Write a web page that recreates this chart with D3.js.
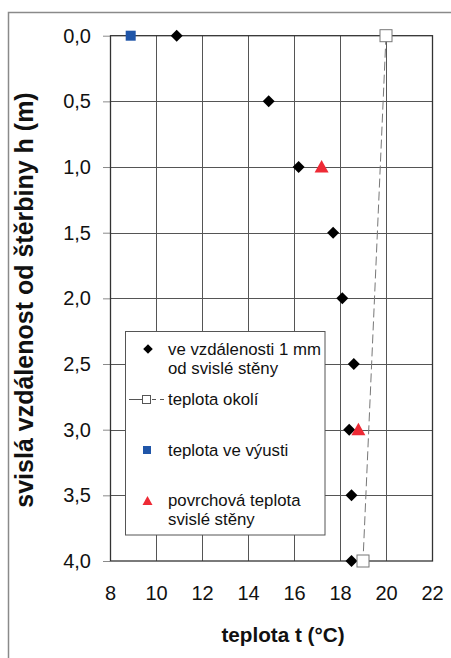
<!DOCTYPE html>
<html>
<head>
<meta charset="utf-8">
<script src="https://cdn.jsdelivr.net/npm/d3@7"></script>
<style>
  html, body { margin: 0; padding: 0; background: #fff; }
  svg { display: block; font-family: "Liberation Sans", Arial, sans-serif; }
</style>
</head>
<body>
<svg id="chart" width="451" height="658"></svg>
<script>
// Heights (m) below the slot
const heights = [0.0, 0.5, 1.0, 1.5, 2.0, 2.5, 3.0, 3.5, 4.0];
// Air temperature 1 mm from the vertical wall (°C)
const tempAt1mm = [10.9, 14.9, 16.2, 17.7, 18.1, 18.6, 18.4, 18.5, 18.5];
// Ambient temperature (°C) at top and bottom
const ambientH = [0.0, 4.0];
const ambientT = [20.0, 19.0];
// Outlet temperature (°C)
const outletH = [0.0];
const outletT = [8.9];
// Surface temperature of the vertical wall (°C)
const surfaceH = [1.0, 3.0];
const surfaceT = [17.2, 18.8];

const xTicks = [8, 10, 12, 14, 16, 18, 20, 22];
const yTicks = [0, 0.5, 1.0, 1.5, 2.0, 2.5, 3.0, 3.5, 4.0];

const svg = d3.select("#chart");
const plotL = 110, plotR = 432, plotT = 35.7, plotB = 561;
const FONT = "'Liberation Sans', Arial, sans-serif";

const x = d3.scaleLinear().domain([8, 22]).range([plotL, plotR]);
const y = d3.scaleLinear().domain([0, 4]).range([plotT, plotB]);
const fmt = d => d3.format(".1f")(d).replace(".", ",");

// outer frame
svg.append("rect").attr("x", 8.5).attr("y", 12.5).attr("width", 470).attr("height", 680)
  .attr("fill", "none").attr("stroke", "#8a8a8a").attr("stroke-width", 1.5);

// grid
const grid = svg.append("g");
grid.selectAll("line.v").data(xTicks.slice(1, -1)).join("line")
  .attr("x1", d => Math.round(x(d)) + 0.5).attr("x2", d => Math.round(x(d)) + 0.5)
  .attr("y1", plotT).attr("y2", plotB)
  .attr("stroke", "#555").attr("stroke-width", 1);
grid.selectAll("line.h").data(yTicks.slice(1, -1)).join("line")
  .attr("y1", d => Math.round(y(d)) + 0.5).attr("y2", d => Math.round(y(d)) + 0.5)
  .attr("x1", plotL).attr("x2", plotR)
  .attr("stroke", "#555").attr("stroke-width", 1);

// axes
const yAxis = d3.axisLeft(y).tickValues(yTicks).tickFormat(fmt).tickSize(7).tickPadding(12);
const gy = svg.append("g").attr("transform", `translate(${plotL},0)`).call(yAxis);
gy.select(".domain").remove();
gy.selectAll(".tick line").attr("stroke", "#8a8a8a");
gy.selectAll(".tick text").attr("font-size", 20).attr("fill", "#111")
  .attr("font-family", FONT);

const xAxis = d3.axisBottom(x).tickValues(xTicks).tickFormat(d3.format("d")).tickSize(0).tickPadding(25);
const gx = svg.append("g").attr("transform", `translate(0,${plotB})`).call(xAxis);
gx.select(".domain").remove();
gx.selectAll(".tick text").attr("font-size", 20).attr("fill", "#111")
  .attr("font-family", FONT);

// plot border
svg.append("rect").attr("x", plotL + 0.5).attr("y", plotT).attr("width", plotR - plotL).attr("height", plotB - plotT)
  .attr("fill", "none").attr("stroke", "#333").attr("stroke-width", 1.3);

// ambient line
svg.append("path")
  .datum(ambientH.map((h, i) => [ambientT[i], h]))
  .attr("d", d3.line().x(d => x(d[0])).y(d => y(d[1])))
  .attr("fill", "none").attr("stroke", "#777").attr("stroke-width", 1)
  .attr("stroke-dasharray", "9,4");

// 1 mm series (diamonds)
svg.append("g").selectAll("path").data(heights.map((h, i) => [tempAt1mm[i], h])).join("path")
  .attr("transform", d => `translate(${x(d[0])},${y(d[1])}) rotate(45)`)
  .attr("d", d3.symbol().type(d3.symbolSquare).size(72)())
  .attr("fill", "#000");

// ambient markers
svg.append("g").selectAll("rect").data(ambientH.map((h, i) => [ambientT[i], h])).join("rect")
  .attr("x", d => x(d[0]) - 6).attr("y", d => y(d[1]) - 6)
  .attr("width", 12).attr("height", 12)
  .attr("fill", "#fff").attr("stroke", "#777").attr("stroke-width", 1);

// outlet marker
svg.append("g").selectAll("rect").data(outletH.map((h, i) => [outletT[i], h])).join("rect")
  .attr("x", d => x(d[0]) - 5).attr("y", d => y(d[1]) - 5)
  .attr("width", 10).attr("height", 10)
  .attr("fill", "#1f55a8");

// surface markers
svg.append("g").selectAll("path").data(surfaceH.map((h, i) => [surfaceT[i], h])).join("path")
  .attr("transform", d => `translate(${x(d[0])},${y(d[1])})`)
  .attr("d", "M0,-7 L7,5.5 L-7,5.5 Z")
  .attr("fill", "#ee2a35");

// legend
const lg = svg.append("g");
lg.append("rect").attr("x", 125.5).attr("y", 331.5).attr("width", 199.5).attr("height", 203.5)
  .attr("fill", "#fff").attr("stroke", "#555").attr("stroke-width", 1);
const lt = (txt, yy) => lg.append("text").attr("x", 168).attr("y", yy).attr("font-size", 16.8)
  .attr("font-family", FONT).attr("fill", "#111").text(txt);
lg.append("path").attr("transform", "translate(148,349) rotate(45)")
  .attr("d", d3.symbol().type(d3.symbolSquare).size(46)()).attr("fill", "#000");
lt("ve vzdálenosti 1 mm", 355);
lt("od svislé stěny", 374);
lg.append("line").attr("x1", 129).attr("x2", 142).attr("y1", 399.5).attr("y2", 399.5)
  .attr("stroke", "#555");
lg.append("line").attr("x1", 152).attr("x2", 166).attr("y1", 399.5).attr("y2", 399.5)
  .attr("stroke", "#555").attr("stroke-dasharray", "4,4");
lg.append("rect").attr("x", 142.5).attr("y", 395.5).attr("width", 8).attr("height", 8)
  .attr("fill", "#fff").attr("stroke", "#555");
lt("teplota okolí", 405);
lg.append("rect").attr("x", 143).attr("y", 446).attr("width", 8).attr("height", 8).attr("fill", "#1f55a8");
lt("teplota ve výusti", 456);
lg.append("path").attr("d", "M147.5,496 L152.5,505 L142.5,505 Z").attr("fill", "#ee2a35");
lt("povrchová teplota", 506);
lt("svislé stěny", 525);

// axis titles
svg.append("text").attr("x", 283).attr("y", 642).attr("text-anchor", "middle").attr("font-family", FONT)
  .attr("font-size", 20.7).attr("font-weight", "bold").attr("fill", "#111").text("teplota t (°C)");
svg.append("text").attr("transform", "translate(33,300) rotate(-90)").attr("text-anchor", "middle")
  .attr("font-family", FONT)
  .attr("font-size", 25).attr("font-weight", "bold").attr("fill", "#111")
  .text("svislá vzdálenost od štěrbiny h (m)");
</script>
</body>
</html>
